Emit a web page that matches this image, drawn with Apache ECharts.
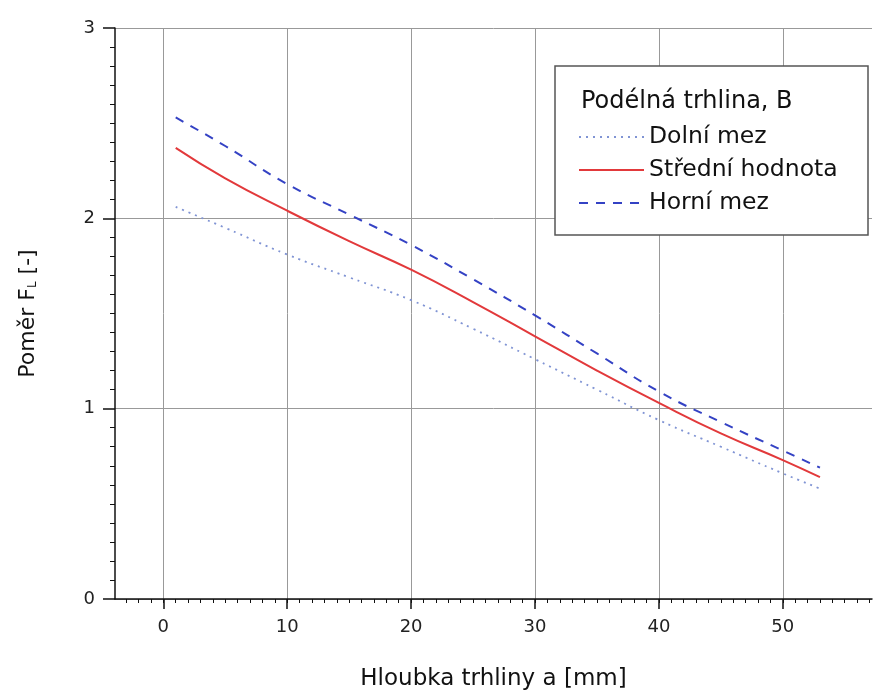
<!DOCTYPE html>
<html>
<head>
<meta charset="utf-8">
<script src="https://cdn.jsdelivr.net/npm/echarts@6/dist/echarts.min.js"></script>
<style>
  html, body { margin: 0; padding: 0; background: #fff; }
  #chart { width: 875px; height: 697px; }
</style>
</head>
<body>
<div id="chart"></div>
<script>
// hloubka trhliny a [mm]
const depth = [1, 5, 10, 15, 20, 25, 30, 35, 40, 45, 50, 53]
// Poměr F_L
const lowerBound = [2.06, 1.95, 1.81, 1.69, 1.57, 1.42, 1.26, 1.10, 0.94, 0.80, 0.66, 0.58]
const meanValue = [2.37, 2.21, 2.04, 1.88, 1.73, 1.56, 1.38, 1.20, 1.03, 0.87, 0.73, 0.64]
const upperBound = [2.53, 2.38, 2.18, 2.02, 1.86, 1.68, 1.49, 1.29, 1.09, 0.93, 0.78, 0.69]
const xMajor = [0, 10, 20, 30, 40, 50]
const xMinor = []
for (let v = -3; v <= 57; v++) xMinor.push(v)

const font = 'DejaVu Sans, sans-serif'
const pairs = arr => depth.map((d, i) => [d, arr[i]])

const myChart = echarts.init(document.getElementById('chart'))
const option = {
  animation: false,
  textStyle: { fontFamily: font },
  grid: { left: 115, right: 3, top: 28, bottom: 98 },
  graphic: [
    {
      type: 'rect',
      z: 10,
      shape: { x: 555, y: 66, width: 313, height: 169 },
      style: { fill: '#fff', stroke: '#555', lineWidth: 1.5 }
    },
    {
      type: 'text',
      z: 11,
      left: 581,
      top: 90,
      style: { text: 'Podélná trhlina, B', fontSize: 24, fontFamily: font, fill: '#111' }
    }
  ],
  legend: {
    z: 20,
    orient: 'vertical',
    left: 573,
    top: 120,
    itemWidth: 65,
    itemHeight: 20,
    itemGap: 9,
    itemStyle: { opacity: 0 },
    textStyle: { fontSize: 23.5, color: '#111' },
    data: ['Dolní mez', 'Střední hodnota', 'Horní mez']
  },
  xAxis: [
    {
      type: 'value',
      min: -3.9,
      max: 57.2,
      name: 'Hloubka trhliny a [mm]',
      nameLocation: 'middle',
      nameGap: 69,
      nameTextStyle: { fontSize: 23, color: '#111' },
      axisLine: { onZero: false, lineStyle: { color: '#111', width: 1.5 } },
      axisTick: { customValues: xMajor, length: 10, lineStyle: { color: '#111', width: 1.5 } },
      axisLabel: { customValues: xMajor, fontSize: 18, color: '#222', margin: 19 },
      splitLine: { show: true, lineStyle: { color: '#999', width: 1 } }
    },
    {
      type: 'value',
      min: -3.9,
      max: 57.2,
      position: 'bottom',
      axisLine: { show: false },
      axisTick: { customValues: xMinor, length: 4, lineStyle: { color: '#111', width: 1 } },
      axisLabel: { show: false },
      splitLine: { show: false }
    }
  ],
  yAxis: {
    type: 'value',
    min: 0,
    max: 3,
    interval: 1,
    name: 'Poměr F{sub|L} [-]',
    nameLocation: 'middle',
    nameGap: 76,
    nameTextStyle: {
      fontSize: 22,
      color: '#111',
      rich: { sub: { fontSize: 12, verticalAlign: 'bottom', padding: [10, 0, 0, 0] } }
    },
    axisLine: { show: true, onZero: false, lineStyle: { color: '#111', width: 1.5 } },
    axisTick: { show: true, length: 12, lineStyle: { color: '#111', width: 1.5 } },
    minorTick: { show: true, splitNumber: 10, length: 5, lineStyle: { color: '#111' } },
    axisLabel: { fontSize: 18, color: '#222', margin: 20 },
    splitLine: { show: true, lineStyle: { color: '#999', width: 1 } }
  },
  series: [
    {
      name: 'Dolní mez',
      type: 'line',
      symbol: 'none',
      smooth: true,
      data: pairs(lowerBound),
      lineStyle: { color: '#8094d4', width: 1.8, type: [2, 5] },
      itemStyle: { color: '#8094d4' }
    },
    {
      name: 'Střední hodnota',
      type: 'line',
      symbol: 'none',
      smooth: true,
      data: pairs(meanValue),
      lineStyle: { color: '#e2393b', width: 2 },
      itemStyle: { color: '#e2393b' }
    },
    {
      name: 'Horní mez',
      type: 'line',
      symbol: 'none',
      smooth: true,
      data: pairs(upperBound),
      lineStyle: { color: '#3442c4', width: 2, type: [9, 8] },
      itemStyle: { color: '#3442c4' }
    }
  ]
}
myChart.setOption(option)
</script>
</body>
</html>
